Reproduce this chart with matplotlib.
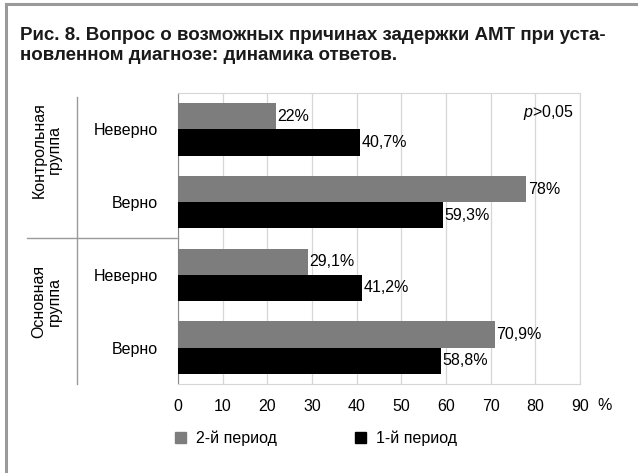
import matplotlib
matplotlib.use('Agg')
import matplotlib.pyplot as plt
import matplotlib.transforms as mtransforms
from matplotlib.lines import Line2D
from matplotlib.patches import Patch

# данные
categories = ['Неверно', 'Верно', 'Неверно', 'Верно']
groups = ['Контрольная\nгруппа', 'Основная\nгруппа']
period2 = [22, 78, 29.1, 70.9]
period1 = [40.7, 59.3, 41.2, 58.8]
xticks = [0, 10, 20, 30, 40, 50, 60, 70, 80, 90]

GRAY = '#7d7d7d'
BLACK = '#000000'
FS = 11.5

plt.rcParams['font.family'] = ['Liberation Sans', 'DejaVu Sans']
plt.rcParams['mathtext.fontset'] = 'custom'
plt.rcParams['mathtext.rm'] = 'Liberation Sans'
plt.rcParams['mathtext.it'] = 'Liberation Sans:italic'


def fmt(v):
    s = ('%g' % v).replace('.', ',')
    return s + '%'


fig = plt.figure(figsize=(6.38, 4.73), dpi=100)
ax = fig.add_axes([178 / 638, 1 - 384 / 473, (580 - 178) / 638, (384 - 93) / 473])

# рамка рисунка
fig.add_artist(Line2D([6 / 638, 6 / 638], [0, 1 - 4 / 473], color='#9a9a9a', lw=2.2))
fig.add_artist(Line2D([6 / 638, 1], [1 - 4 / 473, 1 - 4 / 473], color='#9a9a9a', lw=2.2))

fig.text(20 / 638, 1 - 27 / 473,
         'Рис. 8. Вопрос о возможных причинах задержки АМТ при уста-\n'
         'новленном диагнозе: динамика ответов.',
         ha='left', va='top', fontsize=13.5, fontweight='bold', linespacing=1.2,
         color='#1a1a1a')

y = list(range(len(categories)))
h = 0.36
ax.barh([v - h / 2 for v in y], period2, height=h, color=GRAY, label='2-й период', zorder=3)
ax.barh([v + h / 2 for v in y], period1, height=h, color=BLACK, label='1-й период', zorder=3)

for i in y:
    ax.text(period2[i] + 0.3, i - h / 2, fmt(period2[i]), va='center', ha='left', fontsize=FS, zorder=4)
    ax.text(period1[i] + 0.3, i + h / 2, fmt(period1[i]), va='center', ha='left', fontsize=FS, zorder=4)

ax.set_xlim(0, 90)
ax.set_ylim(3.5, -0.5)
ax.set_xticks(xticks)
ax.set_xticklabels([str(t) for t in xticks], fontsize=FS)
ax.set_yticks(y)
ax.set_yticklabels(categories, fontsize=FS)
ax.tick_params(axis='y', length=0, pad=14.4)
ax.tick_params(axis='x', length=0, pad=11)
ax.grid(axis='x', color='#d6d6d6', lw=0.9, zorder=0)
for s in ['top', 'right', 'bottom']:
    ax.spines[s].set_color('#d6d6d6')
ax.spines['left'].set_color('#8a8a8a')

ax.text(0.985, 0.965, '$p$>0,05', transform=ax.transAxes, ha='right', va='top', fontsize=FS)
fig.text(605 / 638, 1 - 406 / 473, '%', ha='center', va='center', fontsize=FS)

# подписи групп
tr = mtransforms.blended_transform_factory(fig.transFigure, ax.transData)
fig.add_artist(Line2D([77 / 638, 77 / 638], [-0.45, 3.5], transform=tr, color='#9a9a9a', lw=1))
fig.add_artist(Line2D([27 / 638, 178 / 638], [1.5, 1.5], transform=tr, color='#9a9a9a', lw=1))
fig.text(47 / 638, 0.28, groups[0], transform=tr, rotation=90, ha='center', va='center',
         fontsize=FS, linespacing=1.05)
fig.text(47 / 638, 2.36, groups[1], transform=tr, rotation=90, ha='center', va='center',
         fontsize=FS, linespacing=1.05)

handles = [Patch(color=GRAY), Patch(color=BLACK)]
fig.legend(handles, ['2-й период', '1-й период'], loc='center left',
           bbox_to_anchor=(175 / 638, 1 - 438 / 473), ncol=2, frameon=False,
           fontsize=FS, handlelength=0.7, handleheight=0.7, handletextpad=0.6,
           columnspacing=4.9, borderpad=0, borderaxespad=0)

fig.savefig('out.png', dpi=100, facecolor='white')
